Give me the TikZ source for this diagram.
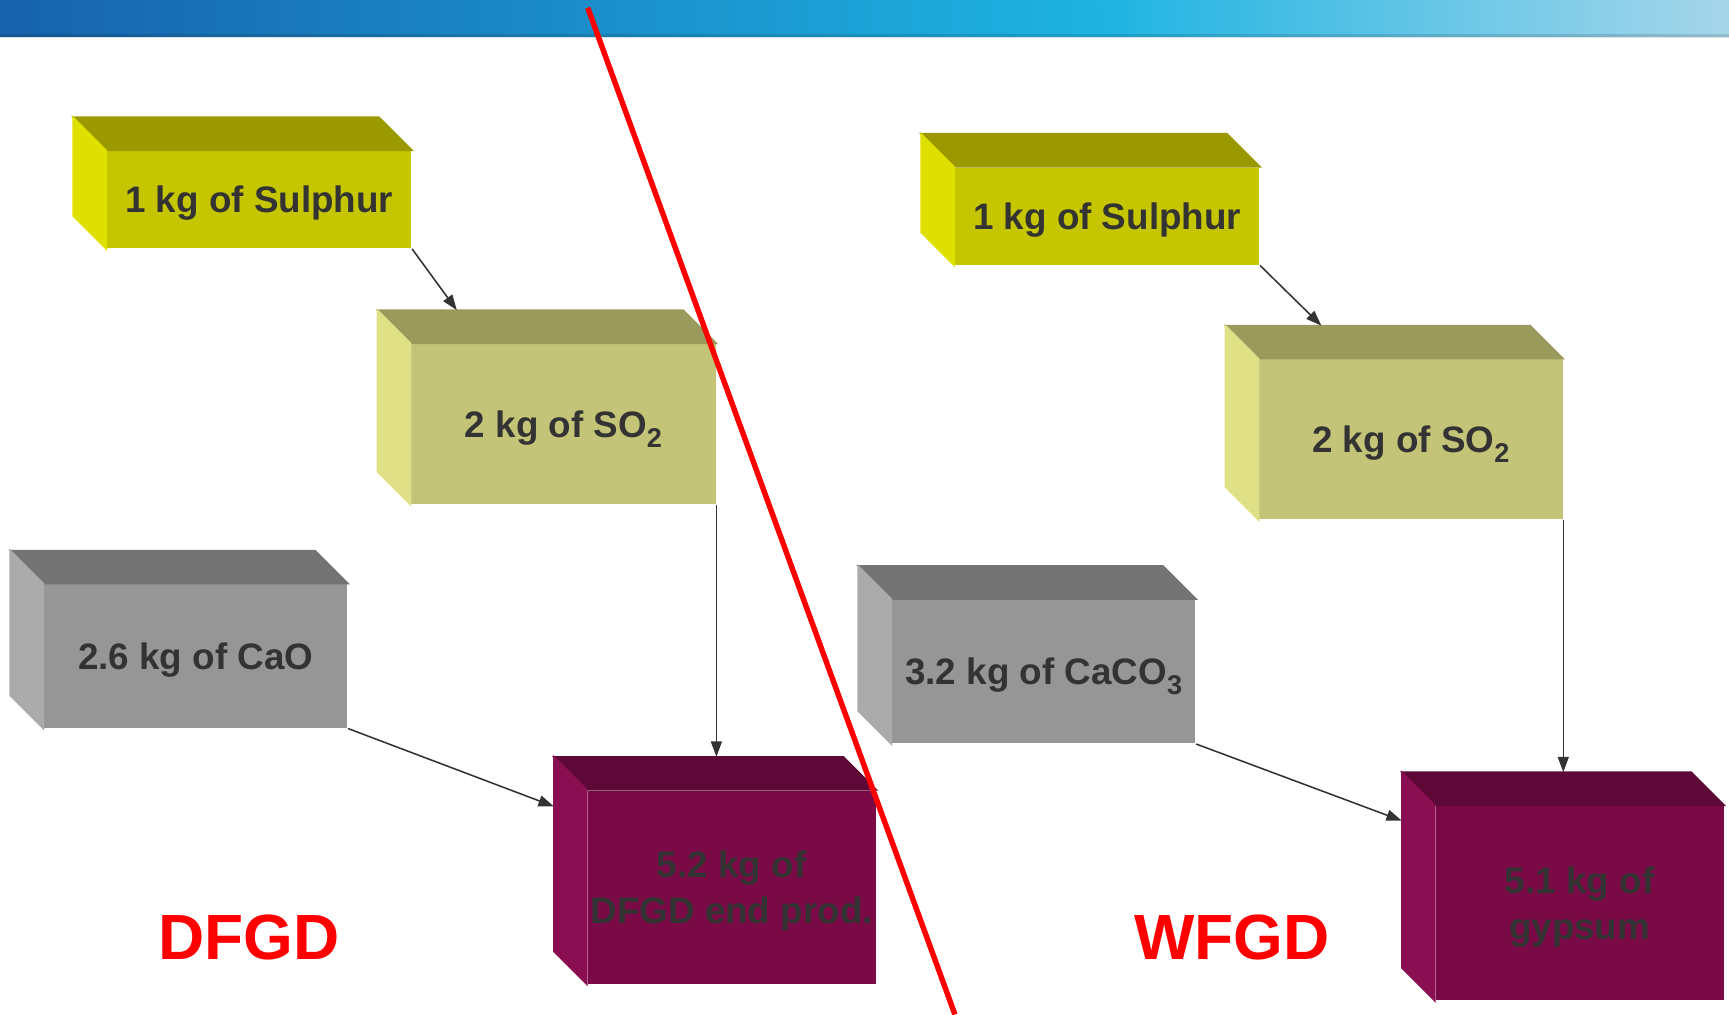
\documentclass[tikz,border=0pt]{standalone}
\usepackage{fontspec}
\setmainfont{Liberation Sans}
\usetikzlibrary{arrows.meta}

\definecolor{sulFront}{HTML}{C6C600}
\definecolor{sulTop}{HTML}{9A9A00}
\definecolor{sulSide}{HTML}{E0E000}
\definecolor{soFront}{HTML}{C4C478}
\definecolor{soTop}{HTML}{9A9A5C}
\definecolor{soSide}{HTML}{E0E087}
\definecolor{caFront}{HTML}{969696}
\definecolor{caTop}{HTML}{737373}
\definecolor{caSide}{HTML}{ABABAB}
\definecolor{prFront}{HTML}{7A0A46}
\definecolor{prTop}{HTML}{5E0838}
\definecolor{prSide}{HTML}{8A0E52}
\definecolor{txtGrey}{HTML}{333333}
\definecolor{barDark}{HTML}{1762AC}
\definecolor{barMid}{HTML}{1EB4E2}
\definecolor{barLight}{HTML}{A6D6EA}

\newcommand\lowIdx[1]{\raisebox{-2.6pt}{\fontsize{7}{7}\selectfont #1}}

\begin{document}
\begin{tikzpicture}
[cubeFront/.style={shape=rectangle,inner sep=0pt,align=center,text=txtGrey,text depth=0pt,%
   font=\bfseries\fontsize{9.5}{11.7}\selectfont},%
  flowLine/.style={-{Triangle[length=1.4mm,width=1mm]},draw=txtGrey,line width=0.4pt},%
  sideLabel/.style={text=red,font=\bfseries\fontsize{16.5}{18}\selectfont},%
  x=1cm,y=1cm]
\useasboundingbox (0,0) rectangle (15.68,-9.20);
%% banner
\shade[left color=barDark,right color=barMid] (0,0) rectangle (10,-0.33);
\shade[left color=barMid,right color=barLight] (10,0) rectangle (15.68,-0.33);
\fill[black,opacity=0.12] (0,-0.31) rectangle (15.68,-0.34);
%% boxes
\foreach \name/\x/\y/\w/\h/\col/\txt in {%
  sulA/2.35/-1.81/2.76/0.88/sul/{1 kg of Sulphur},
  soA/5.11/-3.845/2.76/1.45/so/{2 kg of SO\lowIdx{2}},
  caA/1.775/-5.95/2.75/1.30/ca/{2.6 kg of CaO},
  prA/6.635/-8.045/2.61/1.75/pr/{5.2 kg of\\DFGD end prod.},
  sulB/10.04/-1.96/2.76/0.88/sul/{1 kg of Sulphur},
  soB/12.795/-3.985/2.75/1.45/so/{2 kg of SO\lowIdx{2}},
  caB/9.465/-6.09/2.75/1.30/ca/{3.2 kg of CaCO\lowIdx{3}},
  prB/14.325/-8.19/2.61/1.76/pr/{5.1 kg of\\gypsum}}
{
  \node (\name) at (\x,\y) [cubeFront,fill=\col Front,minimum width=\w cm,minimum height=\h cm] {\txt};
  \coordinate (\name-back) at ([shift={(-0.3,0.3)}]\name.north west);
  \filldraw[\col Top,line width=0.4pt] (\name.north west) -- (\name-back) -- ([shift={(-0.3,0.3)}]\name.north east) -- (\name.north east) -- cycle;
  \filldraw[\col Side,line width=0.4pt] (\name.north west) -- (\name-back) -- ([shift={(-0.3,0.3)}]\name.south west) -- (\name.south west) -- cycle;
}
%% flows
\draw[flowLine] (sulA.south east) -- ([xshift=0.72cm]soA-back);
\draw[flowLine] (soA.south east) -- (soA.south east |- prA-back);
\draw[flowLine] (caA.south east) -- ([yshift=-0.45cm]prA-back);
\draw[flowLine] (sulB.south east) -- ([xshift=0.87cm]soB-back);
\draw[flowLine] (soB.south east) -- (soB.south east |- prB-back);
\draw[flowLine] (caB.south east) -- ([yshift=-0.44cm]prB-back);
%% labels
\node (dfgd) at (2.26,-8.50) [sideLabel] {DFGD};
\node (wfgd) at (11.17,-8.50) [sideLabel] {WFGD};
%% divider
\coordinate (cutTop) at (5.33,-0.07);
\coordinate (cutEnd) at (8.66,-9.20);
\draw[red,line width=1.4pt] (cutTop) -- (cutEnd);
\end{tikzpicture}
\end{document}
